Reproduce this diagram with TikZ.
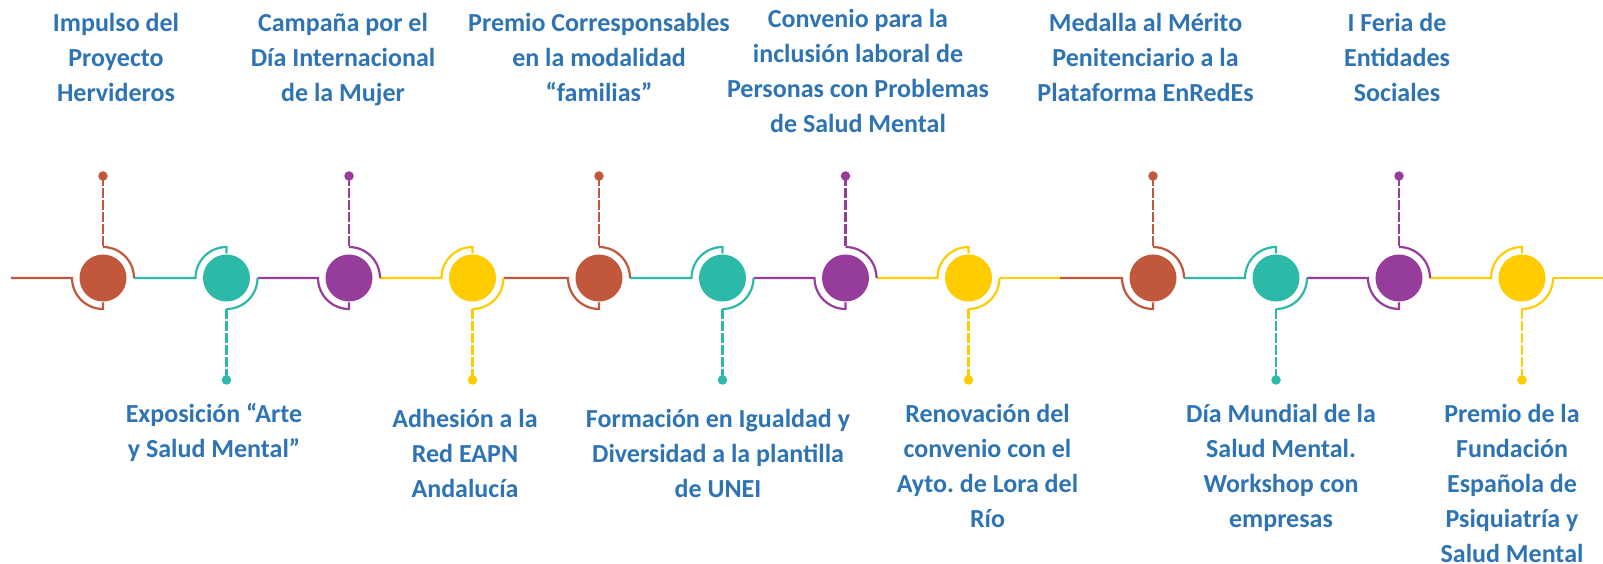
\documentclass[tikz,border=0pt]{standalone}
\usepackage{fontspec}
\setmainfont{Carlito}
\usepackage{tikz}
\usetikzlibrary{positioning}
\frenchspacing

\definecolor{tlred}{RGB}{193,87,59}
\definecolor{tlteal}{RGB}{45,185,167}
\definecolor{tlpurple}{RGB}{150,60,155}
\definecolor{tlyellow}{RGB}{255,204,0}
\definecolor{tlblue}{RGB}{46,116,181}

\tikzset{
  bullet/.style={circle, fill=#1, minimum size=47pt, inner sep=0pt},
  stemdot/.style={circle, fill=#1, minimum size=9.5pt, inner sep=0pt},
  track/.style={draw=#1, line width=2.2pt},
  stem/.style={draw=#1, line width=2.2pt, dash pattern=on 10pt off 2pt},
  eventtext/.style={text=tlblue, anchor=base, align=center, inner sep=0pt,
    font=\fontsize{26}{35}\selectfont\bfseries}
}

\begin{document}
\begin{tikzpicture}[x=1pt,y=1pt]
  \useasboundingbox (0,0) rectangle (1603,564);
  \fill[white] (0,0) rectangle (1603,564);
  % circles on the line
  \node[bullet=tlred] (c1) at (103,286) {};
  \node[bullet=tlteal] (c2) at (226.5,286) {};
  \node[bullet=tlpurple] (c3) at (349,286) {};
  \node[bullet=tlyellow] (c4) at (472.5,286) {};
  \node[bullet=tlred] (c5) at (599,286) {};
  \node[bullet=tlteal] (c6) at (722.5,286) {};
  \node[bullet=tlpurple] (c7) at (845.5,286) {};
  \node[bullet=tlyellow] (c8) at (968.5,286) {};
  \node[bullet=tlred] (c9) at (1153,286) {};
  \node[bullet=tlteal] (c10) at (1276,286) {};
  \node[bullet=tlpurple] (c11) at (1399,286) {};
  \node[bullet=tlyellow] (c12) at (1522,286) {};
  % end dots of the stems
  \node[stemdot=tlred] (d1) at (103,388) {};
  \node[stemdot=tlteal] (d2) at (226.5,184) {};
  \node[stemdot=tlpurple] (d3) at (349,388) {};
  \node[stemdot=tlyellow] (d4) at (472.5,184) {};
  \node[stemdot=tlred] (d5) at (599,388) {};
  \node[stemdot=tlteal] (d6) at (722.5,184) {};
  \node[stemdot=tlpurple] (d7) at (845.5,388) {};
  \node[stemdot=tlyellow] (d8) at (968.5,184) {};
  \node[stemdot=tlred] (d9) at (1153,388) {};
  \node[stemdot=tlteal] (d10) at (1276,184) {};
  \node[stemdot=tlpurple] (d11) at (1399,388) {};
  \node[stemdot=tlyellow] (d12) at (1522,184) {};
  \coordinate (lstart) at (11,286);
  \coordinate (split) at (1060,286);
  \coordinate (lend) at (1603,286);
  % line pieces
  \draw[track=tlred] (lstart) -- ([xshift=-31pt]c1.center) arc[start angle=180,end angle=270,radius=31pt] -- ++(0,6.5pt);
  \foreach \a/\b/\col in {c2/c3/tlpurple,c4/c5/tlred,c6/c7/tlpurple,c10/c11/tlpurple}
    \draw[track=\col] ([xshift=31pt]\a.center) -- ([xshift=-31pt]\b.center) arc[start angle=180,end angle=270,radius=31pt] -- ++(0,6.5pt);
  \foreach \a/\b/\col in {c1/c2/tlteal,c3/c4/tlyellow,c5/c6/tlteal,c7/c8/tlyellow,c9/c10/tlteal,c11/c12/tlyellow}
    \draw[track=\col] ([xshift=31pt]\a.center) -- ([xshift=-31pt]\b.center) arc[start angle=180,end angle=90,radius=31pt] -- ++(0,-6.5pt);
  \draw[track=tlyellow] ([xshift=31pt]c8.center) -- (split);
  \draw[track=tlred] (split) -- ([xshift=-31pt]c9.center) arc[start angle=180,end angle=270,radius=31pt] -- ++(0,6.5pt);
  \draw[track=tlyellow] ([xshift=31pt]c12.center) -- (lend);
  % stems up
  \foreach \n/\col in {1/tlred,3/tlpurple,5/tlred,7/tlpurple,9/tlred,11/tlpurple} {
    \draw[stem=\col] (d\n.center) -- ([yshift=31pt]c\n.center);
    \draw[track=\col] ([yshift=31pt]c\n.center) arc[start angle=90,end angle=0,radius=31pt];
  }
  % stems down
  \foreach \n/\col in {2/tlteal,4/tlyellow,6/tlteal,8/tlyellow,10/tlteal,12/tlyellow} {
    \draw[track=\col] ([xshift=31pt]c\n.center) arc[start angle=0,end angle=-90,radius=31pt];
    \draw[stem=\col] ([yshift=-31pt]c\n.center) -- (d\n.center);
  }
  % texts (base = last line)
  \node[eventtext] (t1) at (116,462) {Impulso del\\Proyecto\\Hervideros};
  \node[eventtext] (t3) at (343,462) {Campaña por el\\Día Internacional\\de la Mujer};
  \node[eventtext] (t5) at (599,462) {Premio Corresponsables\\en la modalidad\\“familias”};
  \node[eventtext] (t7) at (858,431) {Convenio para la\\inclusión laboral de\\Personas con Problemas\\de Salud Mental};
  \node[eventtext] (t9) at (1145.5,462) {Medalla al Mérito\\Penitenciario a la\\Plataforma EnRedEs};
  \node[eventtext] (t11) at (1397,462) {I Feria de\\Entidades\\Sociales};
  \node[eventtext] (t2) at (214,106) {Exposición “Arte\\y Salud Mental”};
  \node[eventtext] (t4) at (465,66) {Adhesión a la\\Red EAPN\\Andalucía};
  \node[eventtext] (t6) at (718,66) {Formación en Igualdad y\\Diversidad a la plantilla\\de UNEI};
  \node[eventtext] (t8) at (987.5,36) {Renovación del\\convenio con el\\Ayto. de Lora del\\Río};
  \node[eventtext] (t10) at (1281,36) {Día Mundial de la\\Salud Mental.\\Workshop con\\empresas};
  \node[eventtext] (t12) at (1512,1) {Premio de la\\Fundación\\Española de\\Psiquiatría y\\Salud Mental};
\end{tikzpicture}
\end{document}
